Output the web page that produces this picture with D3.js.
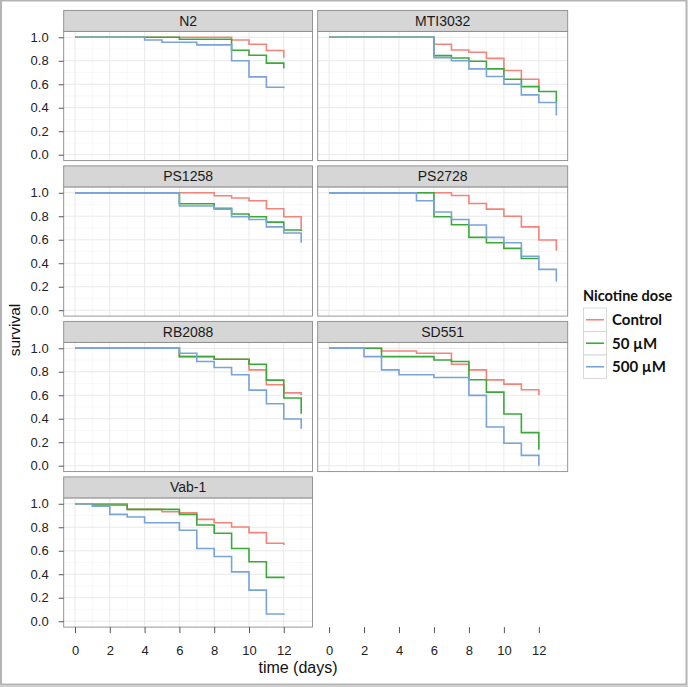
<!DOCTYPE html>
<html><head><meta charset="utf-8">
<script src="https://cdn.jsdelivr.net/npm/d3@7"></script>
<style>
body{margin:0;background:#fff;}
svg{display:block;}
</style></head>
<body>
<svg id="chart" width="688" height="687"></svg>
<script>
// ---- data ----
const panels = ["N2", "MTI3032", "PS1258", "PS2728", "RB2088", "SD551", "Vab-1"];
const doses = ["Control", "50 µM", "500 µM"];
const doseColors = ["#F4847A", "#3AA93A", "#79A3DA"];
const xTicks = [0, 2, 4, 6, 8, 10, 12];
const yTicks = [0, 0.2, 0.4, 0.6, 0.8, 1.0];

// [time (days), survival] per dose
const survN2 = {
  "Control": [[0,1],[9,0.977],[10,0.94],[11,0.888],[12,0.826]],
  "50 µM":   [[0,1],[6,0.983],[9,0.89],[10,0.847],[11,0.78],[12,0.737]],
  "500 µM":  [[0,1],[4,0.977],[5,0.958],[7,0.935],[9,0.80],[10,0.663],[11,0.575],[12,0.565]]
};
const survMTI3032 = {
  "Control": [[0,1],[6,0.94],[7,0.892],[8,0.873],[9,0.82],[10,0.717],[11,0.643],[12,0.538]],
  "50 µM":   [[0,1],[6,0.844],[7,0.824],[8,0.796],[9,0.731],[10,0.643],[11,0.58],[12,0.538],[13,0.448]],
  "500 µM":  [[0,1],[6,0.827],[7,0.80],[8,0.731],[9,0.666],[10,0.60],[11,0.51],[12,0.445],[13,0.334]]
};
const survPS1258 = {
  "Control": [[0,1],[8,0.975],[9,0.955],[10,0.932],[11,0.864],[12,0.796],[13,0.69]],
  "50 µM":   [[0,1],[6,0.906],[8,0.867],[9,0.819],[10,0.796],[11,0.75],[12,0.683],[13,0.675]],
  "500 µM":  [[0,1],[6,0.887],[8,0.861],[9,0.796],[10,0.773],[11,0.71],[12,0.657],[13,0.575]]
};
const survPS2728 = {
  "Control": [[0,1],[7,0.977],[8,0.909],[9,0.861],[10,0.80],[11,0.71],[12,0.598],[13,0.507]],
  "50 µM":   [[0,1],[6,0.796],[7,0.728],[8,0.62],[9,0.575],[10,0.527],[11,0.44],[12,0.44]],
  "500 µM":  [[0,1],[5,0.932],[6,0.836],[7,0.773],[8,0.725],[9,0.62],[10,0.575],[11,0.46],[12,0.348],[13,0.244]]
};
const survRB2088 = {
  "Control": [[0,1],[6,0.93],[8,0.907],[10,0.816],[11,0.69],[12,0.62],[13,0.60]],
  "50 µM":   [[0,1],[6,0.929],[8,0.907],[10,0.864],[11,0.729],[12,0.576],[13,0.443]],
  "500 µM":  [[0,1],[6,0.958],[7,0.887],[8,0.836],[9,0.774],[10,0.644],[11,0.528],[12,0.398],[13,0.314]]
};
const survSD551 = {
  "Control": [[0,1],[3,0.977],[5,0.958],[7,0.864],[8,0.816],[9,0.731],[10,0.695],[11,0.647],[12,0.60]],
  "50 µM":   [[0,1],[3,0.929],[6,0.90],[7,0.887],[8,0.732],[9,0.627],[10,0.44],[11,0.282],[12,0.136]],
  "500 µM":  [[0,1],[2,0.929],[3,0.816],[4,0.774],[6,0.751],[8,0.599],[9,0.33],[10,0.192],[11,0.088],[12,0.0]]
};
const survVab1 = {
  "Control": [[0,1],[3,0.952],[5,0.932],[6,0.924],[7,0.867],[8,0.839],[9,0.802],[10,0.754],[11,0.664],[12,0.65]],
  "50 µM":   [[0,1],[1,0.99],[3,0.952],[6,0.91],[7,0.819],[8,0.749],[9,0.619],[10,0.506],[11,0.373],[12,0.364]],
  "500 µM":  [[0,1],[1,0.98],[2,0.91],[3,0.887],[4,0.839],[6,0.774],[7,0.619],[8,0.551],[9,0.42],[10,0.265],[11,0.062],[12,0.054]]
};
const panelData = [survN2, survMTI3032, survPS1258, survPS2728, survRB2088, survSD551, survVab1];

// ---- layout ----
const svg = d3.select("#chart");
const colX = [[63.7, 312.5], [317.7, 567.7]];
const rowTop0 = 31.4, rowPitch = 155.5, panelH = 129.2, stripH = 21;
const xDomain = [-0.65, 13.65], yDomain = [-0.05, 1.05];
const FONT = "'Liberation Sans', Arial, Helvetica, sans-serif";

// outer frame
svg.append("rect").attr("x", 1).attr("y", 0.5).attr("width", 685.5).attr("height", 684)
  .attr("fill", "#fff").attr("stroke", "#b4b4b4").attr("stroke-width", 2);
svg.append("rect").attr("x", 0).attr("y", 685).attr("width", 688).attr("height", 2).attr("fill", "#cfcfcf");

const lineGen = (x, y) => d3.line().x(d => x(d[0])).y(d => y(d[1])).curve(d3.curveStepAfter);

panels.forEach((name, i) => {
  const col = i % 2, row = Math.floor(i / 2);
  const top = rowTop0 + row * rowPitch;
  const x = d3.scaleLinear().domain(xDomain).range(colX[col]);
  const y = d3.scaleLinear().domain(yDomain).range([top + panelH, top]);
  const g = svg.append("g");
  const [x0, x1] = colX[col];

  g.append("rect").attr("x", x0).attr("y", top).attr("width", x1 - x0).attr("height", panelH).attr("fill", "#fff");
  // minor grid
  const minorX = d3.range(1, 14, 2), minorY = d3.range(0.1, 1.0, 0.2);
  g.selectAll(".mx").data(minorX).enter().append("line")
    .attr("x1", d => x(d)).attr("x2", d => x(d)).attr("y1", top).attr("y2", top + panelH)
    .attr("stroke", "#f3f3f3").attr("stroke-width", 0.6);
  g.selectAll(".my").data(minorY).enter().append("line")
    .attr("y1", d => y(d)).attr("y2", d => y(d)).attr("x1", x0).attr("x2", x1)
    .attr("stroke", "#f3f3f3").attr("stroke-width", 0.6);
  // major grid
  g.selectAll(".gx").data(xTicks).enter().append("line")
    .attr("x1", d => x(d)).attr("x2", d => x(d)).attr("y1", top).attr("y2", top + panelH)
    .attr("stroke", "#e6e6e6").attr("stroke-width", 0.9);
  g.selectAll(".gy").data(yTicks).enter().append("line")
    .attr("y1", d => y(d)).attr("y2", d => y(d)).attr("x1", x0).attr("x2", x1)
    .attr("stroke", "#e6e6e6").attr("stroke-width", 0.9);

  // survival step lines
  const data = panelData[i];
  doses.forEach((dz, k) => {
    g.append("path").datum(data[dz]).attr("d", lineGen(x, y))
      .attr("fill", "none").attr("stroke", doseColors[k]).attr("stroke-width", 1.6);
  });

  // panel border
  g.append("rect").attr("x", x0).attr("y", top).attr("width", x1 - x0).attr("height", panelH)
    .attr("fill", "none").attr("stroke", "#8a8a8a").attr("stroke-width", 0.9);
  // strip
  g.append("rect").attr("x", x0).attr("y", top - stripH).attr("width", x1 - x0).attr("height", stripH)
    .attr("fill", "#d6d6d6").attr("stroke", "#8a8a8a").attr("stroke-width", 0.9);
  g.append("text").attr("x", (x0 + x1) / 2).attr("y", top - stripH / 2 + 5)
    .attr("text-anchor", "middle").attr("font-family", FONT).attr("font-weight", "normal")
    .attr("font-size", 14).attr("fill", "#1a1a1a")
    .text(name);

  // y axis on first column
  if (col === 0) {
    const ax = g.append("g").attr("transform", `translate(${x0},0)`)
      .call(d3.axisLeft(y).tickValues(yTicks).tickFormat(d3.format(".1f")).tickSize(5).tickPadding(10));
    ax.select(".domain").remove();
    ax.selectAll("line").attr("stroke", "#555");
    ax.selectAll("text").attr("font-family", FONT).attr("font-size", 13).attr("fill", "#222");
  }
});

// x axes at bottom for both columns
const axisY = rowTop0 + 3 * rowPitch + panelH;
colX.forEach((cx) => {
  const x = d3.scaleLinear().domain(xDomain).range(cx);
  const ax = svg.append("g").attr("transform", `translate(0,${axisY})`)
    .call(d3.axisBottom(x).tickValues(xTicks).tickSize(6).tickPadding(13));
  ax.select(".domain").remove();
  ax.selectAll("line").attr("stroke", "#555");
  ax.selectAll("text").attr("font-family", FONT).attr("font-size", 13).attr("fill", "#222");
});

// axis titles
svg.append("text").attr("x", 298).attr("y", 673).attr("text-anchor", "middle")
  .attr("font-family", FONT).attr("font-size", 16).attr("fill", "#111").text("time (days)");
svg.append("text").attr("transform", "translate(20,330) rotate(-90)").attr("text-anchor", "middle")
  .attr("font-family", FONT).attr("font-size", 15.5).attr("fill", "#111").text("survival");

// legend
const LFONT = "Lato, 'Open Sans', sans-serif";
const lg = svg.append("g");
lg.append("text").attr("x", 583).attr("y", 301).attr("font-family", LFONT).attr("font-weight", "bold")
  .attr("font-size", 14.5).attr("fill", "#111").text("Nicotine dose");
doses.forEach((dz, k) => {
  const yy = 308 + k * 23.5;
  lg.append("rect").attr("x", 583.5).attr("y", yy).attr("width", 23).attr("height", 23.5)
    .attr("fill", "#fff").attr("stroke", "#d0d0d0").attr("stroke-width", 0.8);
  lg.append("line").attr("x1", 586).attr("x2", 604).attr("y1", yy + 11.75).attr("y2", yy + 11.75)
    .attr("stroke", doseColors[k]).attr("stroke-width", 1.6);
  lg.append("text").attr("x", 612).attr("y", yy + 17).attr("font-family", LFONT).attr("font-weight", "bold")
    .attr("font-size", 15).attr("fill", "#111").text(dz);
});
</script>
</body></html>
